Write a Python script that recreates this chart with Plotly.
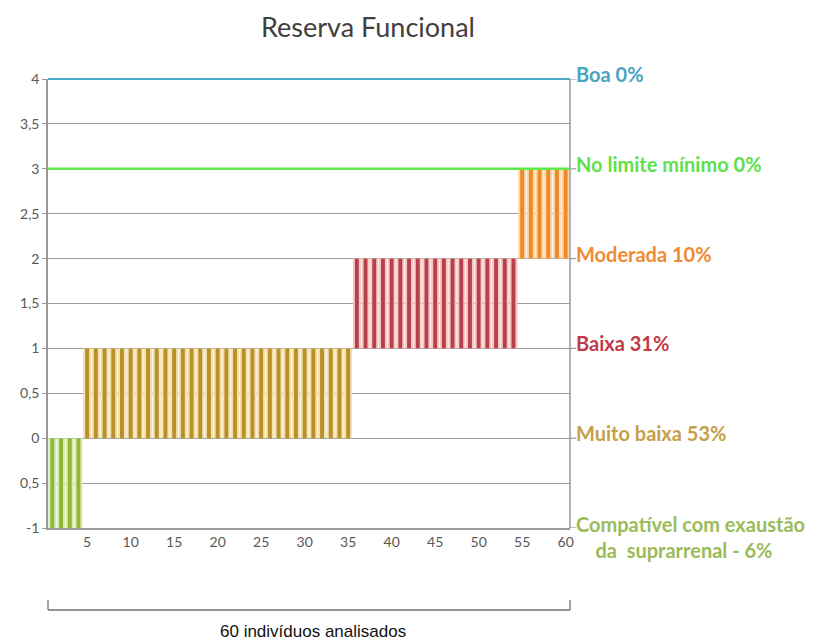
import plotly.graph_objects as go

# ---- data ----
individuals = list(range(1, 61))
group_names = ["Compatível com exaustão da suprarrenal", "Muito baixa", "Baixa", "Moderada"]
group_counts = [4, 31, 19, 6]
group_base = [0, 0, 1, 2]
group_value = [-1, 1, 1, 1]
dark_colors = ["#8db83a", "#b8912e", "#b8404a", "#ee8a2a"]
light_colors = ["#dcecb0", "#f4e0a8", "#f6c8c4", "#fcd8a8"]

y_tickvals = [-1, -0.5, 0, 0.5, 1, 1.5, 2, 2.5, 3, 3.5, 4]
y_ticktext = ["-1", "0,5", "0", "0,5", "1", "1,5", "2", "2,5", "3", "3,5", "4"]
x_tickvals = [5, 10, 15, 20, 25, 30, 35, 40, 45, 50, 55, 60]

right_labels = [
    (4, "Boa 0%", "#4aa3c0"),
    (3, "No limite mínimo 0%", "#5ee04a"),
    (2, "Moderada 10%", "#f08a32"),
    (1, "Baixa 31%", "#c03a48"),
    (0, "Muito baixa 53%", "#c4a048"),
]

fig = go.Figure()

start = 1
for name, n, b, v, dc, lc in zip(group_names, group_counts, group_base, group_value,
                                 dark_colors, light_colors):
    xs = individuals[start - 1:start - 1 + n]
    start += n
    fig.add_trace(go.Bar(x=xs, y=[v] * n, base=[b] * n, width=0.92,
                         marker=dict(color=lc, line=dict(width=0)),
                         showlegend=False, hoverinfo="skip"))
    fig.add_trace(go.Bar(x=xs, y=[v] * n, base=[b] * n, width=0.45, name=name,
                         marker=dict(color=dc, line=dict(width=0)),
                         showlegend=False))

grid_col = "#9a9a9a"
W, H = 810, 635
L, T = 34, 71
PW, PH = 562 - L, 520 - T
fig.update_layout(
    width=W, height=H,
    margin=dict(l=L, r=W - 562, t=T, b=H - 520),
    plot_bgcolor="white", paper_bgcolor="white",
    barmode="overlay",
    font=dict(family="Lato, Open Sans, sans-serif", color="#595959"),
    xaxis=dict(range=[0.5, 60.5], tickvals=x_tickvals, showgrid=False,
               showline=True, linecolor=grid_col, linewidth=1.5, mirror=False,
               ticks="", tickfont=dict(size=14, color="#595959"), zeroline=False),
    yaxis=dict(range=[-1, 4], tickvals=y_tickvals, ticktext=y_ticktext,
               showgrid=True, gridcolor=grid_col, gridwidth=1.3,
               showline=True, linecolor=grid_col, linewidth=1.5,
               ticks="outside", ticklen=4, tickcolor=grid_col,
               tickfont=dict(size=14, color="#595959"), zeroline=False),
)

# right border line
fig.add_shape(type="line", xref="paper", yref="paper", x0=1, x1=1, y0=0, y1=1,
              line=dict(color=grid_col, width=1.5))
# coloured reference lines
fig.add_shape(type="line", xref="paper", yref="paper", x0=0, x1=1, y0=1, y1=1,
              line=dict(color="#4aa8c8", width=2))
fig.add_shape(type="line", xref="paper", yref="y", x0=0, x1=1, y0=3, y1=3,
              line=dict(color="#5ee84a", width=2.5))
# stubs at right
for yv in [4, 3, 2, 1, 0, -1]:
    fig.add_shape(type="line", xref="paper", yref="y", x0=1, x1=1.012, y0=yv, y1=yv,
                  line=dict(color=grid_col, width=1.2))

for yv, txt, col in right_labels:
    fig.add_annotation(xref="paper", yref="y", x=1, y=yv, text="<b>" + txt + "</b>",
                       showarrow=False, xanchor="left", yanchor="middle",
                       xshift=4, yshift=5,
                       font=dict(size=20, color=col, family="Lato, sans-serif"))
fig.add_annotation(xref="paper", yref="y", x=1, y=-1,
                   text="<b>Compatível com exaustão<br>    da  suprarrenal - 6%</b>",
                   showarrow=False, xanchor="left", yanchor="top", xshift=4, yshift=18,
                   align="left",
                   font=dict(size=20, color="#9bbb59", family="Lato, sans-serif"))

# title
fig.add_annotation(xref="paper", yref="paper", x=(358 - L) / PW, y=1 + T / PH,
                   text="Reserva Funcional", showarrow=False, xanchor="center",
                   yanchor="top", font=dict(size=27, color="#404040",
                                            family="Lato, sans-serif"))

# bottom bracket
yb = -(602 - 520) / PH
fig.add_shape(type="line", xref="paper", yref="paper", x0=0, x1=1, y0=yb, y1=yb,
              line=dict(color="#707070", width=1.3))
fig.add_shape(type="line", xref="paper", yref="paper", x0=0, x1=0, y0=yb, y1=yb + 0.022,
              line=dict(color="#707070", width=1.3))
fig.add_shape(type="line", xref="paper", yref="paper", x0=1, x1=1, y0=yb, y1=yb + 0.022,
              line=dict(color="#707070", width=1.3))
fig.add_annotation(xref="paper", yref="paper", x=(302 - L) / PW, y=-(623 - 520) / PH,
                   text="60 indivíduos analisados",
                   showarrow=False, xanchor="center", yanchor="middle",
                   font=dict(size=17, color="#111111", family="Liberation Sans, Arial"))

fig.write_html("out.html")
